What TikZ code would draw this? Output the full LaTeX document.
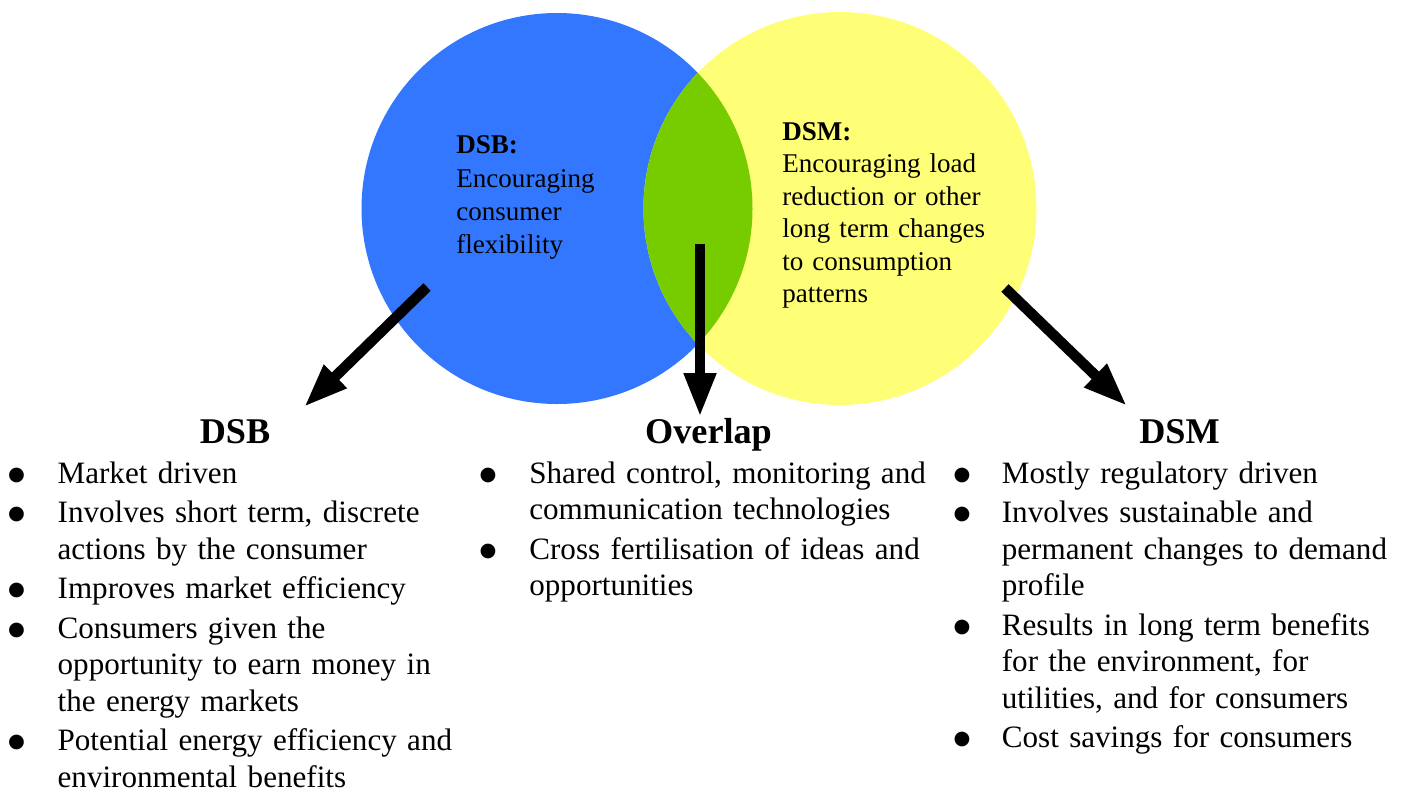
\documentclass[tikz,border=0pt]{standalone}
\usepackage{fontspec}
\setmainfont{Liberation Serif}
\newfontfamily\bulletfont{DejaVu Sans}
\usetikzlibrary{arrows.meta}

\definecolor{dsbblue}{RGB}{51,119,255}
\definecolor{dsmyellow}{RGB}{255,255,119}
\definecolor{overlapgreen}{RGB}{119,204,0}

\begin{document}
\begin{tikzpicture}
\tikzstyle{heading}=[font=\fontsize{20.6}{24}\selectfont\bfseries,anchor=base,inner sep=0]
\tikzstyle{incircle}=[font=\fontsize{15.4}{18.55}\selectfont,align=left,anchor=base west,inner sep=0,text width=5cm]
\tikzstyle{itemtxt}=[font=\fontsize{17.7}{20.8}\selectfont,align=left,anchor=base west,inner sep=0,text width=8.5cm]
\tikzstyle{bul}=[font=\bulletfont\fontsize{11}{13}\selectfont,anchor=base,inner sep=0,text height=0.25cm,text depth=0pt,yshift=0.06cm]
\tikzstyle{bigarrow}=[line width=0.21cm,-{Triangle[length=0.88cm,width=0.6cm]}]
\useasboundingbox (0,0) rectangle (28.28,-15.98);
% the two circles and their overlap
\fill[dsbblue] (11.14,-4.17) circle (3.91);
\fill[dsmyellow] (16.8,-4.17) circle (3.93);
\begin{scope}
\clip (11.14,-4.17) circle (3.91);
\fill[overlapgreen] (16.8,-4.17) circle (3.93);
\end{scope}
\node [incircle] (dsbin) at (9.12,-3.07) {\textbf{DSB:}\\[1pt]Encouraging\\consumer\\flexibility};
\node [incircle] (dsmin) at (15.64,-2.80) {\textbf{DSM:}\\Encouraging load\\reduction or other\\long term changes\\to consumption\\patterns};
% headings
\node [heading] (dsbhead) at (4.70,-8.866) {DSB};
\node [heading] (ovlhead) at (14.17,-8.866) {Overlap};
\node [heading] (dsmhead) at (23.59,-8.866) {DSM};
% arrows
\coordinate (dsbfrom) at (8.54,-5.74);
\coordinate (dsbto) at (6.08,-8.14);
\coordinate (ovlfrom) at (14.0,-4.88);
\coordinate (ovlto) at (14.0,-8.34);
\coordinate (dsmfrom) at (20.10,-5.76);
\coordinate (dsmto) at (22.54,-8.12);
\draw [bigarrow] (dsbfrom) -- (dsbto);
\draw [bigarrow] (ovlfrom) -- (ovlto);
\draw [bigarrow] (dsmfrom) -- (dsmto);
% DSB list
\node [bul] (lb1) at (0.33,-9.66) {●};
\node [itemtxt] (lt1) at (1.146,-9.66) {Market driven};
\node [bul] (lb2) at (0.33,-10.45) {●};
\node [itemtxt] (lt2) at (1.146,-10.45) {Involves short term, discrete\\actions by the consumer};
\node [bul] (lb3) at (0.33,-11.972) {●};
\node [itemtxt] (lt3) at (1.146,-11.972) {Improves market efficiency};
\node [bul] (lb4) at (0.33,-12.762) {●};
\node [itemtxt] (lt4) at (1.146,-12.762) {Consumers given the\\opportunity to earn money in\\the energy markets};
\node [bul] (lb5) at (0.33,-15.016) {●};
\node [itemtxt] (lt5) at (1.146,-15.016) {Potential energy efficiency and\\environmental benefits};
% overlap list
\node [bul] (mb1) at (9.76,-9.66) {●};
\node [itemtxt] (mt1) at (10.58,-9.66) {Shared control, monitoring and\\communication technologies};
\node [bul] (mb2) at (9.76,-11.182) {●};
\node [itemtxt] (mt2) at (10.58,-11.182) {Cross fertilisation of ideas and\\opportunities};
% DSM list
\node [bul] (rb1) at (19.24,-9.66) {●};
\node [itemtxt] (rt1) at (20.03,-9.66) {Mostly regulatory driven};
\node [bul] (rb2) at (19.24,-10.45) {●};
\node [itemtxt] (rt2) at (20.03,-10.45) {Involves sustainable and\\permanent changes to demand\\profile};
\node [bul] (rb3) at (19.24,-12.704) {●};
\node [itemtxt] (rt3) at (20.03,-12.704) {Results in long term benefits\\for the environment, for\\utilities, and for consumers};
\node [bul] (rb4) at (19.24,-14.958) {●};
\node [itemtxt] (rt4) at (20.03,-14.958) {Cost savings for consumers};
\end{tikzpicture}
\end{document}
